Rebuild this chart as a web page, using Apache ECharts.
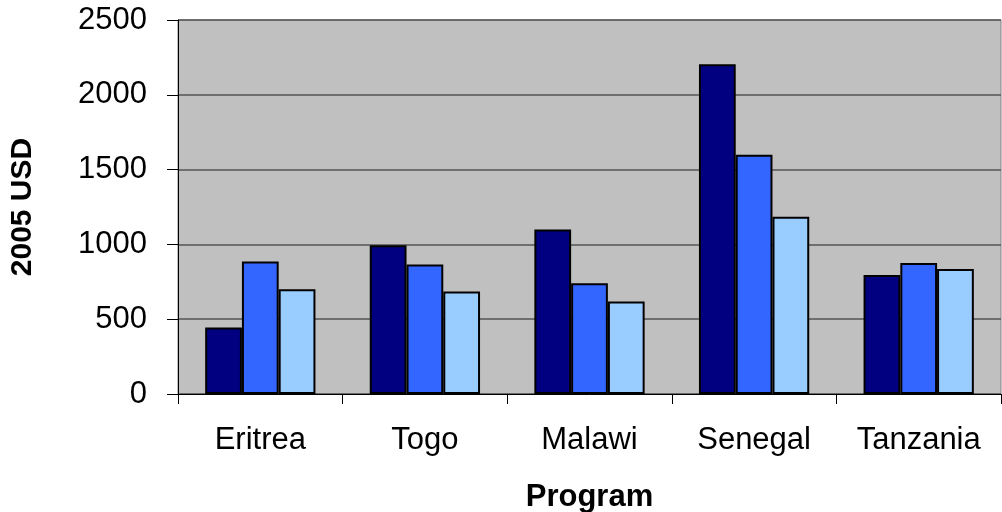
<!DOCTYPE html>
<html>
<head>
<meta charset="utf-8">
<script src="https://cdn.jsdelivr.net/npm/echarts@6/dist/echarts.min.js"></script>
<style>
  html, body { margin: 0; padding: 0; background: #fff; }
  #main { width: 1002px; height: 512px; }
</style>
</head>
<body>
<div id="main"></div>
<script>
// categories and the three bar series (2005 USD)
var programs = ['Eritrea', 'Togo', 'Malawi', 'Senegal', 'Tanzania'];
var series1 = [445, 995, 1100, 2205, 795];
var series2 = [885, 865, 740, 1600, 875];
var series3 = [700, 685, 618, 1185, 835];
var seriesColors = ['#000080', '#3366FF', '#99CCFF'];

var labelFont = 'Liberation Sans, Arial, sans-serif';

var myChart = echarts.init(document.getElementById('main'));

function barSeries(name, data, color) {
    return {
        name: name,
        type: 'bar',
        data: data,
        barGap: '0%',
        barCategoryGap: '33%',
        itemStyle: {
            color: color,
            borderColor: '#000',
            borderWidth: 2
        },
        emphasis: { disabled: true }
    };
}

myChart.setOption({
    animation: false,
    backgroundColor: '#fff',
    grid: {
        left: 178,
        right: 1,
        top: 20,
        bottom: 118,
        outerBoundsMode: 'none',   // keep the plot box where it is
        show: true,
        backgroundColor: '#C0C0C0',
        borderColor: '#808080',
        borderWidth: 1
    },
    xAxis: {
        type: 'category',
        data: programs,
        name: 'Program',
        nameLocation: 'middle',
        nameGap: 88,
        nameTextStyle: {
            fontFamily: labelFont,
            fontSize: 31,
            fontWeight: 'bold',
            color: '#000'
        },
        axisLine: { lineStyle: { color: '#000', width: 1 } },
        axisTick: { show: true, length: 10, lineStyle: { color: '#000' } },
        axisLabel: {
            fontFamily: labelFont,
            fontSize: 31,
            color: '#000',
            margin: 31
        }
    },
    yAxis: {
        type: 'value',
        min: 0,
        max: 2500,
        interval: 500,
        name: '2005 USD',
        nameLocation: 'middle',
        nameGap: 140,
        nameTextStyle: {
            fontFamily: labelFont,
            fontSize: 30,
            fontWeight: 'bold',
            color: '#000'
        },
        axisLine: { show: true, lineStyle: { color: '#000', width: 1 } },
        axisTick: { show: true, length: 11, lineStyle: { color: '#000' } },
        axisLabel: {
            fontFamily: labelFont,
            fontSize: 31,
            color: '#000',
            margin: 31,
            formatter: function (v) { return String(v); }
        },
        splitLine: { lineStyle: { color: '#555', width: 1.5 } }
    },
    series: [
        barSeries('Series 1', series1, seriesColors[0]),
        barSeries('Series 2', series2, seriesColors[1]),
        barSeries('Series 3', series3, seriesColors[2])
    ]
});
</script>
</body>
</html>
